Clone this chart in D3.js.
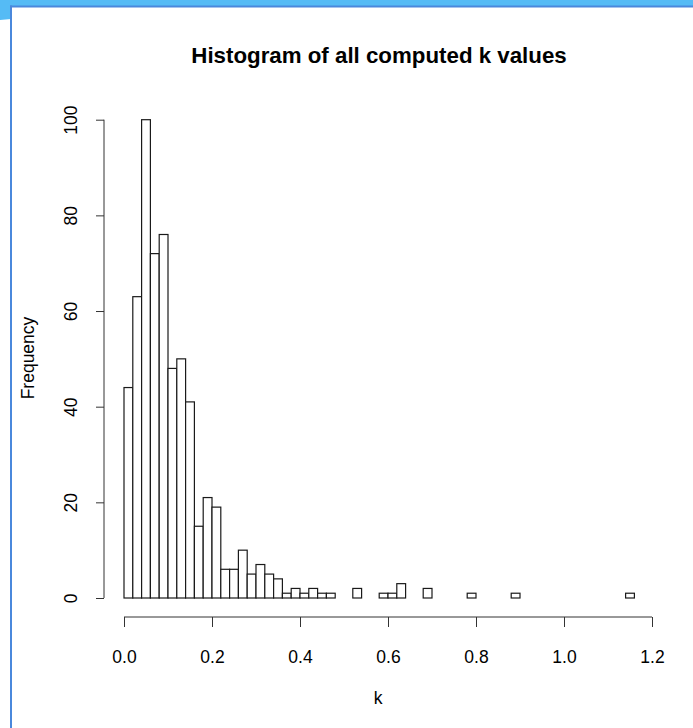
<!DOCTYPE html>
<html>
<head>
<meta charset="utf-8">
<script src="https://cdn.jsdelivr.net/npm/d3@7"></script>
<style>
  html, body { margin: 0; padding: 0; background: #fff; }
  svg { display: block; }
  text { font-family: "Liberation Sans", Arial, sans-serif; fill: #000; }
</style>
</head>
<body>
<svg id="chart" width="693" height="728"></svg>
<script>
// ---- data ----
const binWidth = 0.02;
const binStarts = d3.range(0, 58).map(i => +(i * binWidth).toFixed(2)); // 0.00 ... 1.14
const counts = [
  44, 63, 100, 72, 76, 48, 50, 41, 15, 21,
  19, 6, 6, 10, 5, 7, 5, 4, 1, 2,
  1, 2, 1, 1, 0, 0, 2, 0, 0, 1,
  1, 3, 0, 0, 2, 0, 0, 0, 0, 1,
  0, 0, 0, 0, 1, 0, 0, 0, 0, 0,
  0, 0, 0, 0, 0, 0, 0, 1
];
const xTicks = [0, 0.2, 0.4, 0.6, 0.8, 1.0, 1.2];
const yTicks = [0, 20, 40, 60, 80, 100];
const title = "Histogram of all computed k values";
const xLabel = "k";
const yLabel = "Frequency";

// ---- drawing ----
const svg = d3.select("#chart");

// window frame
svg.append("rect").attr("x", 0).attr("y", 0).attr("width", 693).attr("height", 6).attr("fill", "#55bbf5");
svg.append("path").attr("d", "M0,0 L11,0 L11,19 L0,20 Z").attr("fill", "#55bbf5");
svg.append("rect").attr("x", 10).attr("y", 5.5).attr("width", 683).attr("height", 2).attr("fill", "#4a88dc");
svg.append("rect").attr("x", 10).attr("y", 5.5).attr("width", 2).attr("height", 723).attr("fill", "#4a88dc");

const x = d3.scaleLinear().domain([0, 1.2]).range([124, 652]);
const y = d3.scaleLinear().domain([0, 100]).range([598, 119.7]);

// bars
svg.append("g").selectAll("rect")
  .data(counts.map((c, i) => ({ x0: binStarts[i], c })))
  .join("rect")
  .attr("x", d => x(d.x0))
  .attr("y", d => y(d.c))
  .attr("width", d => x(d.x0 + binWidth) - x(d.x0))
  .attr("height", d => y(0) - y(d.c))
  .attr("fill", "#fff")
  .attr("stroke", "#1a1a1a")
  .attr("stroke-width", 1.2);

const tickFont = 17.5;

// x axis
const xAxis = svg.append("g").attr("transform", "translate(0,617)")
  .call(d3.axisBottom(x).tickValues(xTicks).tickFormat(d3.format(".1f")).tickSizeOuter(0).tickSizeInner(10).tickPadding(0));
xAxis.select(".domain").attr("stroke", "#333").attr("d", `M${x(0)},0H${x(1.2)}`);
xAxis.selectAll(".tick line").attr("stroke", "#333");
xAxis.selectAll(".tick text")
  .attr("y", 46).attr("dy", null)
  .attr("font-size", tickFont).attr("fill", "#111").attr("font-family", "Liberation Sans, Arial, sans-serif");

// y axis
const yAxis = svg.append("g").attr("transform", "translate(104,0)")
  .call(d3.axisLeft(y).tickValues(yTicks).tickSizeOuter(0).tickSizeInner(8).tickPadding(0));
yAxis.select(".domain").attr("stroke", "#333").attr("d", `M0,${y(0)}V${y(100)}`);
yAxis.selectAll(".tick line").attr("stroke", "#333");
yAxis.selectAll(".tick text")
  .attr("x", null).attr("dy", null)
  .attr("text-anchor", "middle")
  .attr("transform", "translate(-27,0) rotate(-90)")
  .attr("font-size", tickFont).attr("fill", "#111").attr("font-family", "Liberation Sans, Arial, sans-serif");

// title and labels
svg.append("text").attr("x", 379).attr("y", 63).attr("text-anchor", "middle")
  .attr("font-size", 22.3).attr("font-weight", "bold").text(title);
svg.append("text").attr("x", 378).attr("y", 704).attr("text-anchor", "middle")
  .attr("font-size", tickFont).text(xLabel);
svg.append("text").attr("transform", "translate(34,358) rotate(-90)").attr("text-anchor", "middle")
  .attr("font-size", tickFont).text(yLabel);
</script>
</body>
</html>
